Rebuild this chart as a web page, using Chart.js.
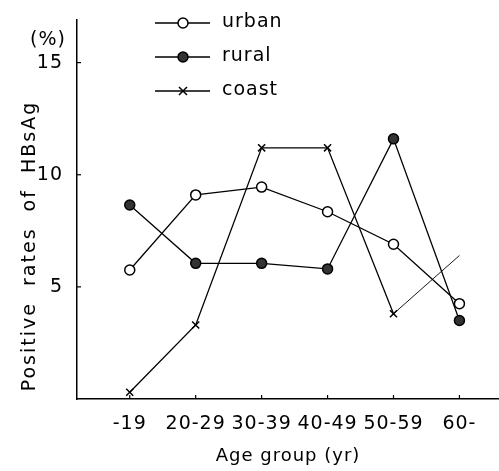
<!DOCTYPE html>
<html>
<head>
<meta charset="utf-8">
<script src="https://cdn.jsdelivr.net/npm/chart.js@4/dist/chart.umd.min.js"></script>
<style>
html, body { margin: 0; padding: 0; background: #fff; overflow: hidden; }
canvas { display: block; }
</style>
</head>
<body>
<canvas id="chart" width="499" height="471"></canvas>
<script>
const ageGroups = ["-19", "20-29", "30-39", "40-49", "50-59", "60-"];
const urban = [5.75, 9.1, 9.45, 8.35, 6.9, 4.25];
const rural = [8.65, 6.05, 6.05, 5.8, 11.6, 3.5];
const coast = [0.3, 3.3, 11.2, 11.2, 3.8, 6.4];
const yTicks = [5, 10, 15];

const FONT = "'DejaVu Sans', sans-serif";

function toPoints(arr) {
  return arr.map((v, i) => ({ x: i, y: v }));
}

// a little extra letter spacing for all text, the figure's lettering is wide
const spacing = {
  id: 'spacing',
  beforeDraw(chart) { chart.ctx.letterSpacing = '1px'; }
};

// legend drawn as a vertical list inside the plot, like the figure
const legendList = {
  id: 'legendList',
  afterDraw(chart) {
    const ctx = chart.ctx;
    ctx.save();
    chart.data.datasets.forEach((ds, i) => {
      const y = 23 + i * 34;
      const mx = 183;
      ctx.strokeStyle = '#000';
      ctx.lineWidth = 1.5;
      ctx.beginPath();
      ctx.moveTo(155, y);
      ctx.lineTo(210, y);
      ctx.stroke();
      if (ds.pointStyle === 'circle') {
        ctx.fillStyle = ds.pointBackgroundColor;
        ctx.beginPath();
        ctx.arc(mx, y, 5, 0, Math.PI * 2);
        ctx.fill();
        ctx.stroke();
      } else {
        const r = 4;
        ctx.beginPath();
        ctx.moveTo(mx - r, y - r); ctx.lineTo(mx + r, y + r);
        ctx.moveTo(mx + r, y - r); ctx.lineTo(mx - r, y + r);
        ctx.stroke();
      }
      ctx.fillStyle = '#000';
      ctx.font = '19px ' + FONT;
      ctx.textBaseline = 'middle';
      ctx.fillText(ds.label, 222, y - 1);
    });
    ctx.fillText('(%)', 30, 40);

    // y axis title
    ctx.translate(30, 246);
    ctx.rotate(-Math.PI / 2);
    ctx.textAlign = 'center';
    ctx.letterSpacing = '2px';
    ctx.font = '19px ' + FONT;
    ctx.fillText('Positive  rates  of  HBsAg', 0, 0);
    ctx.restore();
  }
};

// small ticks pointing into the plot
const innerTicks = {
  id: 'innerTicks',
  afterDraw(chart) {
    const ctx = chart.ctx;
    const xs = chart.scales.x, ys = chart.scales.y;
    ctx.save();
    ctx.strokeStyle = '#000';
    ctx.lineWidth = 1.2;
    ageGroups.forEach((g, i) => {
      const px = xs.getPixelForValue(i);
      ctx.beginPath();
      ctx.moveTo(px, ys.bottom);
      ctx.lineTo(px, ys.bottom - 4);
      ctx.stroke();
    });
    yTicks.forEach(t => {
      const py = ys.getPixelForValue(t);
      ctx.beginPath();
      ctx.moveTo(xs.left, py);
      ctx.lineTo(xs.left + 4, py);
      ctx.stroke();
    });
    ctx.restore();
  }
};

function series(label, data, style, fill) {
  return {
    label: label,
    data: toPoints(data),
    borderColor: '#000',
    borderWidth: 1.3,
    pointStyle: style,
    pointRadius: 5,
    pointBorderWidth: 1.5,
    pointBorderColor: '#000',
    pointBackgroundColor: fill,
    tension: 0
  };
}

const coastSet = series('coast', coast, 'crossRot', '#000');
coastSet.pointRadius = coast.map((v, i) => i === coast.length - 1 ? 0 : 5);
coastSet.segment = {
  borderWidth: c => c.p1DataIndex === coast.length - 1 ? 0.9 : 1.3
};

new Chart(document.getElementById('chart'), {
  type: 'line',
  data: {
    datasets: [
      series('urban', urban, 'circle', '#fff'),
      series('rural', rural, 'circle', '#333'),
      coastSet
    ]
  },
  plugins: [spacing, legendList, innerTicks],
  options: {
    responsive: false,
    animation: false,
    layout: { autoPadding: false, padding: { top: 20, right: 0, left: 0, bottom: 0 } },
    plugins: { legend: { display: false }, tooltip: { enabled: false } },
    scales: {
      x: {
        type: 'linear',
        min: -0.8,
        max: 5.6,
        grid: { display: false, drawTicks: false },
        border: { color: '#000', width: 1.5 },
        afterBuildTicks: s => { s.ticks = ageGroups.map((g, i) => ({ value: i })); },
        afterFit: s => { s.height = 72; s.paddingLeft = 0; s.paddingRight = 0; },
        ticks: {
          color: '#000',
          padding: 14,
          autoSkip: false,
          maxRotation: 0,
          font: { family: FONT, size: 19 },
          callback: v => ageGroups[v]
        },
        title: {
          display: true,
          text: 'Age group (yr)',
          color: '#000',
          font: { family: FONT, size: 18 },
          padding: { top: 16 }
        }
      },
      y: {
        min: 0,
        max: 16.9,
        grid: { display: false, drawTicks: false },
        border: { color: '#000', width: 1.5 },
        afterBuildTicks: s => { s.ticks = yTicks.map(v => ({ value: v })); },
        afterFit: s => { s.width = 77; s.paddingTop = 0; s.paddingBottom = 0; },
        ticks: {
          color: '#000',
          padding: 14,
          font: { family: FONT, size: 19 }
        }
      }
    }
  }
});
</script>
</body>
</html>
